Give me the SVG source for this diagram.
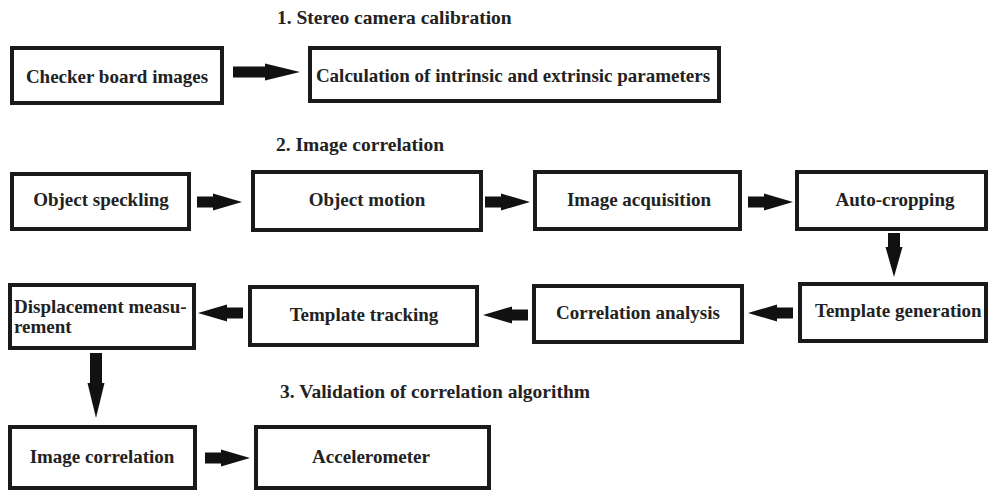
<svg xmlns="http://www.w3.org/2000/svg" width="988" height="491" viewBox="0 0 988 491">
  <style>
    .box { fill: #fff; stroke: #1a1a1a; stroke-width: 4; }
    .lbl { font-family: "Liberation Serif", "Times New Roman", serif; font-weight: bold; font-size: 19px; fill: #222; }
    .mid { text-anchor: middle; }
    .ttl { font-family: "Liberation Serif", "Times New Roman", serif; font-weight: bold; font-size: 19.5px; fill: #222; }
    .arr { fill: #111; }
  </style>
  <defs>
    <!-- block arrows, drawn pointing right / down from the origin -->
    <path id="arR" d="M0,-5.5 L16,-5.5 L16,-8.5 L45,0 L16,8.5 L16,5.5 L0,5.5 Z"/>
    <path id="arR2" d="M0,-5.5 L32,-5.5 L32,-8.5 L67,0 L32,8.5 L32,5.5 L0,5.5 Z"/>
    <path id="arD" d="M-6,0 L6,0 L6,14 L8.5,14 L0,44 L-8.5,14 L-6,14 Z"/>
    <path id="arD2" d="M-6,0 L6,0 L6,30 L8.5,30 L0,65 L-8.5,30 L-6,30 Z"/>
  </defs>
  <rect width="988" height="491" fill="#fff"/>

  <!-- section headings -->
  <text class="ttl" x="277" y="24">1. Stereo camera calibration</text>
  <text class="ttl" x="276" y="151">2. Image correlation</text>
  <text class="ttl" x="280" y="398">3. Validation of correlation algorithm</text>

  <!-- connectors -->
  <g id="connectors" class="arr">
    <use href="#arR2" x="233" y="72"/>
    <use href="#arR" x="197" y="202"/>
    <use href="#arR" x="485" y="202"/>
    <use href="#arR" x="748" y="202"/>
    <use href="#arD" x="894" y="233"/>
    <use href="#arR" transform="translate(793,313) scale(-1,1)"/>
    <use href="#arR" transform="translate(528,315) scale(-1,1)"/>
    <use href="#arR" transform="translate(243,313) scale(-1,1)"/>
    <use href="#arD2" x="96" y="353"/>
    <use href="#arR" x="205" y="458"/>
  </g>

  <!-- 1. calibration -->
  <g id="checker">
    <rect class="box" x="12" y="48" width="210" height="55"/>
    <text class="lbl mid" x="117" y="83">Checker board images</text>
  </g>
  <g id="calc">
    <rect class="box" x="310" y="48" width="409" height="53"/>
    <text class="lbl mid" x="513" y="82">Calculation of intrinsic and extrinsic parameters</text>
  </g>

  <!-- 2. image correlation, row 1 -->
  <g id="speckling">
    <rect class="box" x="12" y="174" width="177" height="55"/>
    <text class="lbl mid" x="101" y="206">Object speckling</text>
  </g>
  <g id="motion">
    <rect class="box" x="253" y="172" width="228" height="58"/>
    <text class="lbl mid" x="367" y="206">Object motion</text>
  </g>
  <g id="acquisition">
    <rect class="box" x="535" y="172" width="205" height="57"/>
    <text class="lbl mid" x="639" y="206">Image acquisition</text>
  </g>
  <g id="autocrop">
    <rect class="box" x="797" y="172" width="189" height="57"/>
    <text class="lbl mid" x="895" y="206">Auto-cropping</text>
  </g>

  <!-- 2. image correlation, row 2 -->
  <g id="templategen">
    <rect class="box" x="800" y="284" width="186" height="57"/>
    <text class="lbl" x="815" y="317">Template generation</text>
  </g>
  <g id="corranalysis">
    <rect class="box" x="534" y="286" width="208" height="56"/>
    <text class="lbl mid" x="638" y="319">Correlation analysis</text>
  </g>
  <g id="tracking">
    <rect class="box" x="250" y="287" width="227" height="58"/>
    <text class="lbl mid" x="364" y="321">Template tracking</text>
  </g>
  <g id="displacement">
    <rect class="box" x="10" y="285" width="184" height="63"/>
    <text class="lbl" x="14" y="313">Displacement measu-</text>
    <text class="lbl" x="14" y="333">rement</text>
  </g>

  <!-- 3. validation -->
  <g id="imgcorr">
    <rect class="box" x="10" y="427" width="185" height="61"/>
    <text class="lbl mid" x="102" y="463">Image correlation</text>
  </g>
  <g id="accel">
    <rect class="box" x="256" y="427" width="233" height="61"/>
    <text class="lbl mid" x="371" y="463">Accelerometer</text>
  </g>
</svg>
